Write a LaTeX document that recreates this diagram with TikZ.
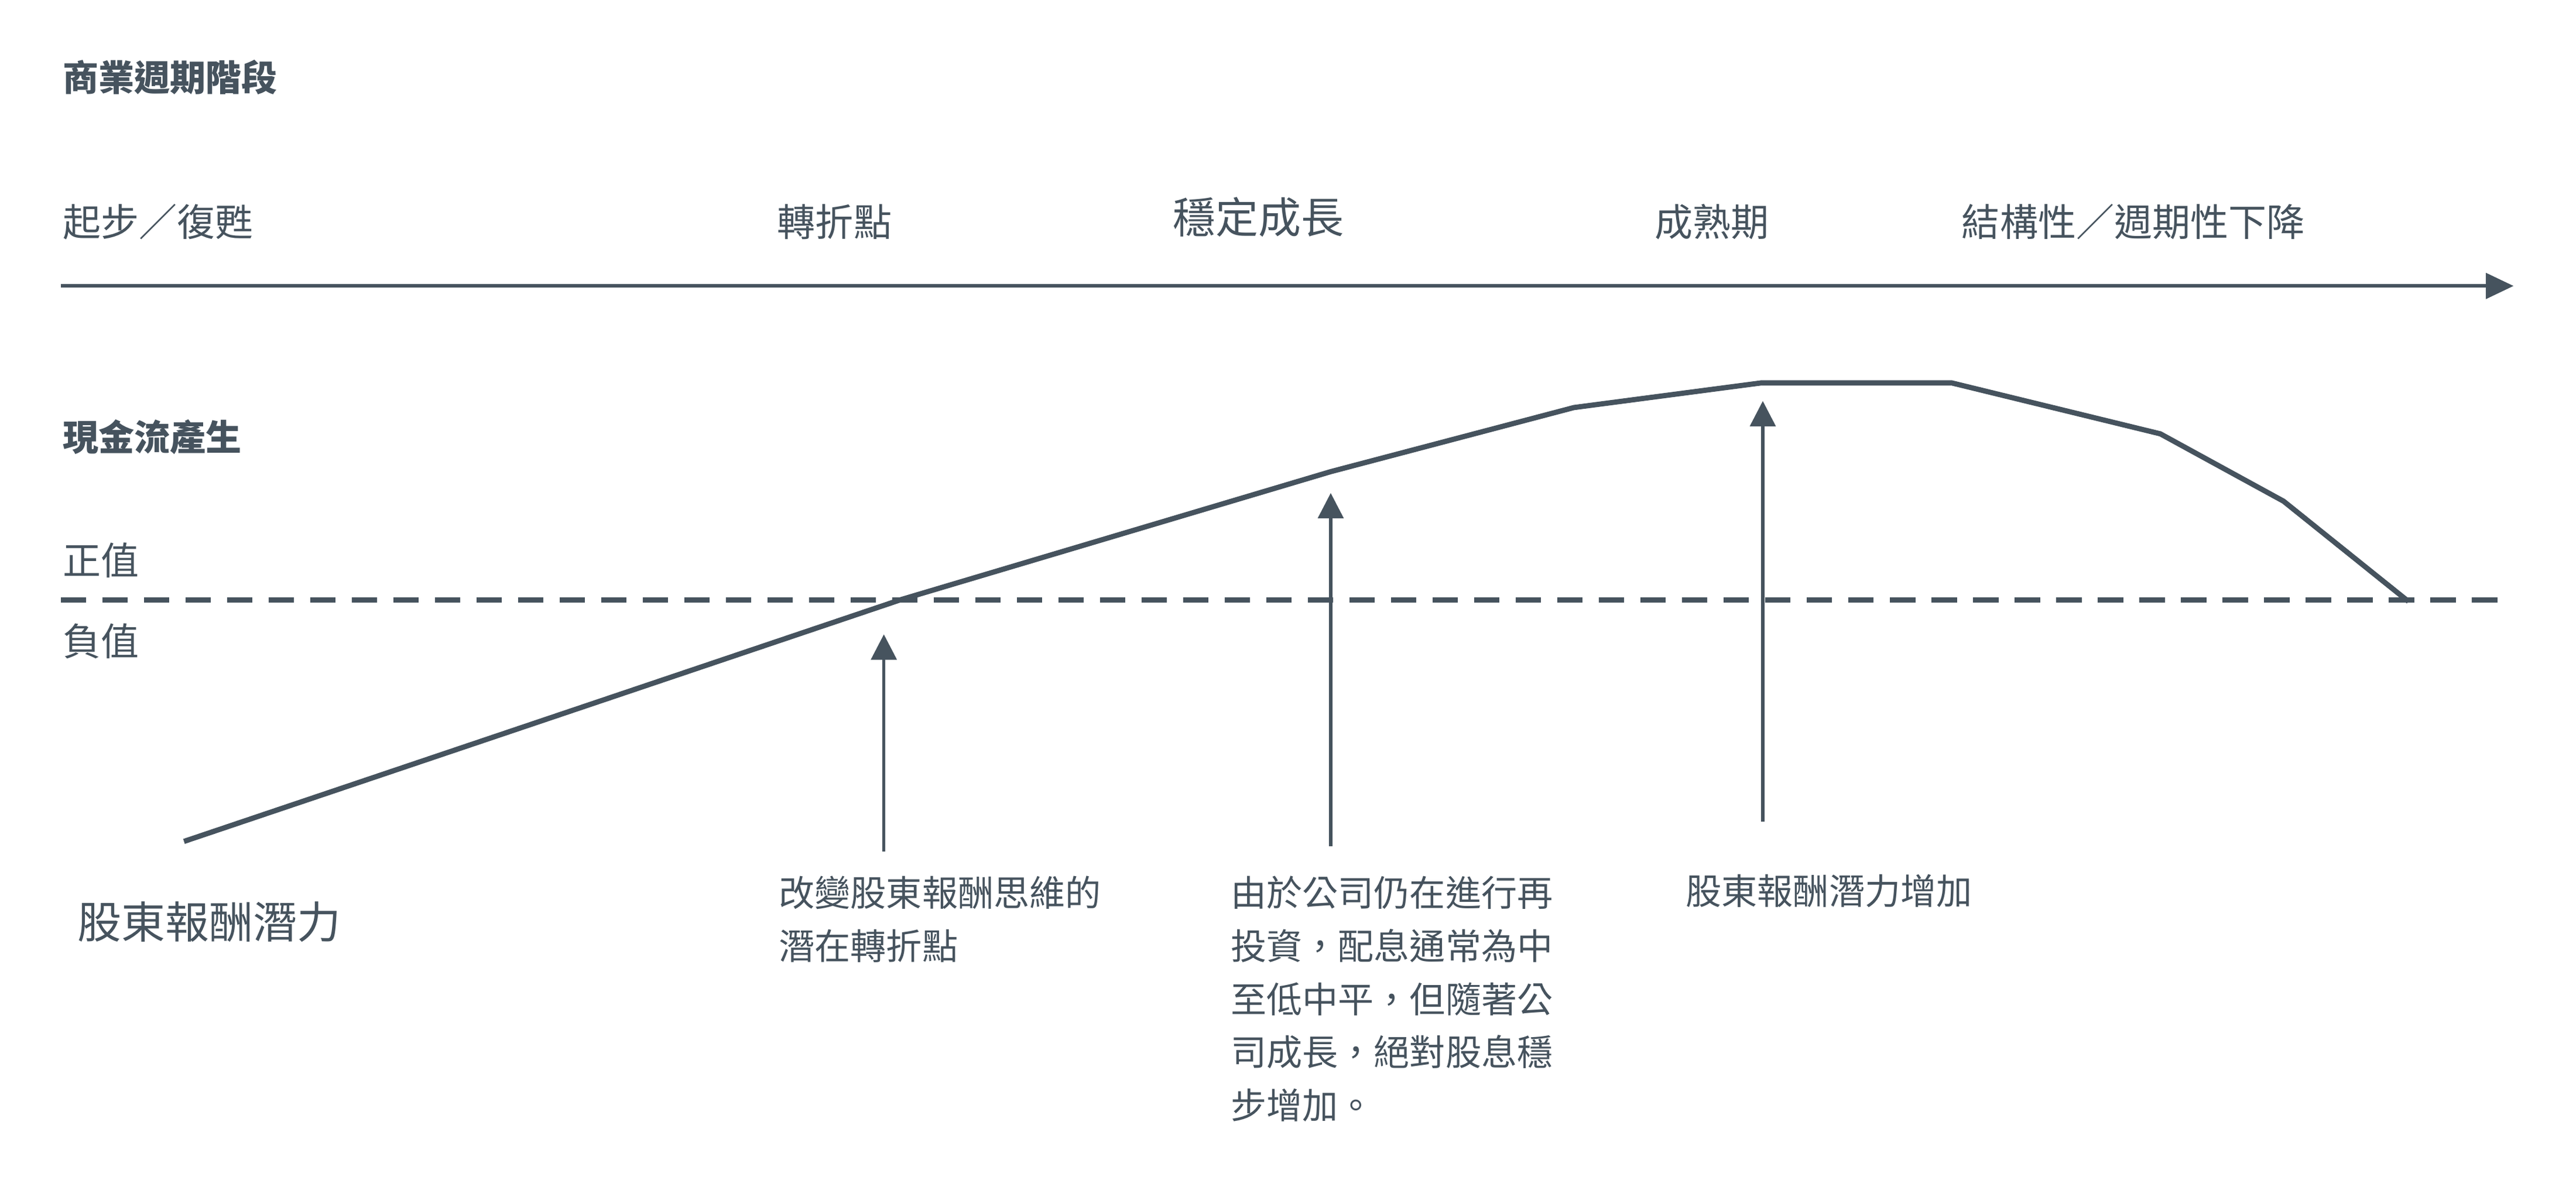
\documentclass[tikz,border=0pt]{standalone}
\usepackage{fontspec}
\setmainfont{Noto Sans CJK TC}
\usetikzlibrary{arrows.meta}
\definecolor{ink}{HTML}{46535E}
\tikzset{
 lbl/.style={anchor=west,inner sep=0,text=ink,font=\fontsize{33}{40}\selectfont},
 hd/.style={anchor=west,inner sep=0,text=ink,font=\fontsize{31}{38}\selectfont\bfseries},
 note/.style={anchor=north west,inner sep=0,text=ink,align=left,font=\fontsize{31}{46}\selectfont},
 ln/.style={draw=ink,line width=4.5pt},
 up/.style={draw=ink,line width=2.8pt,-{Triangle[length=22pt,width=22pt]}}
}
\begin{document}
\begin{tikzpicture}[x=0.05cm,y=-0.05cm]
\useasboundingbox (0,0) rectangle (1568,724);
\node[hd] (t1) at (38,47) {商業週期階段};
\node[lbl] (s1) at (38,135) {起步／復甦};
\node[lbl,anchor=center] (s2) at (508,135) {轉折點};
\node[lbl,anchor=center,font=\fontsize{37}{44}\selectfont] (s3) at (766,132) {穩定成長};
\node[lbl,anchor=center] (s4) at (1042,135) {成熟期};
\node[lbl] (s5) at (1194,135) {結構性／週期性下降};
\coordinate (a0) at (37,174); \coordinate (a1) at (1530,174);
\draw[draw=ink,line width=3pt,-{Triangle[length=24pt,width=22pt]}] (a0) -- (a1);
\node[hd] (t2) at (38,266) {現金流產生};
\node[lbl] (pos) at (38,341) {正值};
\node[lbl] (neg) at (38,390) {負值};
\coordinate (d0) at (37,365); \coordinate (d1) at (1528,365);
\draw[ln,dash pattern=on 22pt off 14pt] (d0) -- (d1);
\draw[ln,line join=round] (112,512) -- (548,365) -- (810,287) -- (958,248) -- (1072,233) -- (1188,233) -- (1315,264) -- (1390,305) -- (1466,366);
\coordinate (u1) at (538,518); \coordinate (v1) at (538,386);
\coordinate (u2) at (810,515); \coordinate (v2) at (810,300);
\coordinate (u3) at (1073,500); \coordinate (v3) at (1073,244);
\draw[up] (u1) -- (v1);
\draw[up] (u2) -- (v2);
\draw[up] (u3) -- (v3);
\node[lbl,font=\fontsize{38}{44}\selectfont] (n0) at (47,561) {股東報酬潛力};
\node[note] (n1) at (474,533) {改變股東報酬思維的\\潛在轉折點};
\node[note] (n2) at (749,533) {由於公司仍在進行再\\投資，配息通常為中\\至低中平，但隨著公\\司成長，絕對股息穩\\步增加。};
\node[note] (n3) at (1026,532) {股東報酬潛力增加};
\end{tikzpicture}
\end{document}
